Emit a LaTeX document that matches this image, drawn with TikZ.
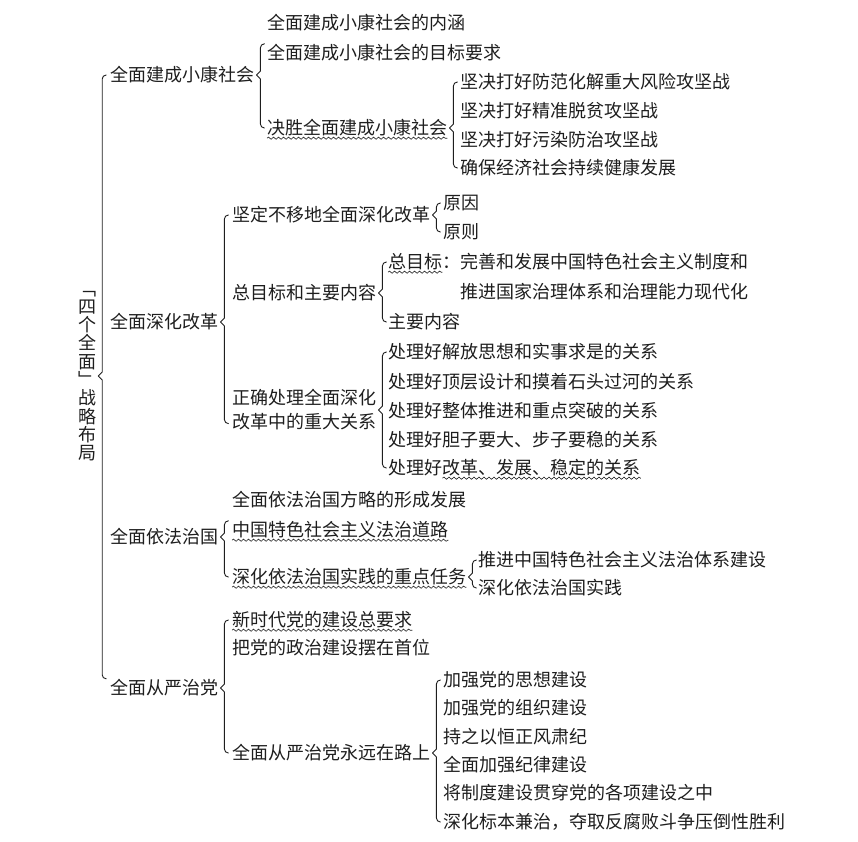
\documentclass[tikz,border=0pt]{standalone}
\usepackage{fontspec}
\setmainfont{Noto Sans CJK SC}
\usetikzlibrary{positioning,decorations.pathmorphing}

\definecolor{ink}{HTML}{1E1E1E}

\tikzset{
  item/.style={anchor=west, inner sep=0pt, text height=15.5pt, text depth=2.5pt},
  brace/.style={line width=0.9pt, line cap=round, line join=round},
  wavy/.style={line width=0.6pt, decorate, decoration={snake, amplitude=1.1pt, segment length=5pt}}
}

% brace after node #1, from the height of #2 down to #3
\newcommand{\fork}[3]{%
  \coordinate (ft) at ([xshift=6pt]#1.east);
  \coordinate (fa) at (ft |- #2);
  \coordinate (fb) at (ft |- #3);
  \draw[brace] ([xshift=4pt]fa) to[out=180,in=90] ([yshift=-4pt]fa) -- ([yshift=4pt]ft)
    -- ([xshift=-4pt]ft) -- ([yshift=-4pt]ft) -- ([yshift=4pt]fb) to[out=-90,in=180] ([xshift=4pt]fb);
}
\newcommand{\wave}[1]{\draw[wavy] ([yshift=-1pt]#1.south west) -- ([yshift=-1pt]#1.south east);}

\begin{document}
\begin{tikzpicture}[x=1pt, y=-1pt, ink, font=\fontsize{18}{22}\selectfont]
    \useasboundingbox (0,0) rectangle (858,841);

        \node[inner sep=0pt, align=center, font=\fontsize{18}{18.3}\selectfont] at (87,376) (title) {﹁\\四\\个\\全\\面\\﹂\\战\\略\\布\\局};

        \node[item] at (110,75) (xk) {全面建成小康社会};
        \node[item] at (110,322) (sh) {全面深化改革};
        \node[item] at (110,537) (yf) {全面依法治国};
        \node[item] at (110,688) (cy) {全面从严治党};

        \node[item] at (267,23) (xk1) {全面建成小康社会的内涵};
        \node[item] at (267,53) (xk2) {全面建成小康社会的目标要求};
        \node[item] at (267,128) (js) {决胜全面建成小康社会};
        \node[item] at (460,82) (js1) {坚决打好防范化解重大风险攻坚战};
        \node[item] at (460,111) (js2) {坚决打好精准脱贫攻坚战};
        \node[item] at (460,140) (js3) {坚决打好污染防治攻坚战};
        \node[item] at (460,168) (js4) {确保经济社会持续健康发展};

        \node[item] at (232,215) (jd) {坚定不移地全面深化改革};
        \node[item] at (443,203) (why) {原因};
        \node[item] at (443,232) (rule) {原则};
        \node[item] at (232,293) (zm) {总目标和主要内容};
        \node[item] at (388,262) (goal) {总目标};
        \node[item, right=0pt of goal] (goaltext) {：完善和发展中国特色社会主义制度和};
        \node[item] at (460,292) (goaltext2) {推进国家治理体系和治理能力现代化};
        \node[item] at (388,322) (main) {主要内容};
        \node[anchor=west, inner sep=0pt, align=left, font=\fontsize{18}{24}\selectfont] at (232,410) (zq) {正确处理全面深化\\改革中的重大关系};
        \coordinate (zqend) at ([yshift=7pt]zq.south west);
        \node[item] at (388,352) (r1) {处理好解放思想和实事求是的关系};
        \node[item] at (388,382) (r2) {处理好顶层设计和摸着石头过河的关系};
        \node[item] at (388,411) (r3) {处理好整体推进和重点突破的关系};
        \node[item] at (388,440) (r4) {处理好胆子要大、步子要稳的关系};
        \node[item] at (388,468) (r5) {处理好};
        \node[item, right=0pt of r5] (r5b) {改革、发展、稳定的关系};

        \node[item] at (232,500) (fz1) {全面依法治国方略的形成发展};
        \node[item] at (232,530) (fz2) {中国特色社会主义法治道路};
        \node[item] at (232,577) (fz3) {深化依法治国实践的重点任务};
        \node[item] at (478,560) (t1) {推进中国特色社会主义法治体系建设};
        \node[item] at (478,588) (t2) {深化依法治国实践};

        \node[item] at (232,620) (dj1) {新时代党的建设总要求};
        \node[item] at (232,648) (dj2) {把党的政治建设摆在首位};
        \node[item] at (232,753) (yy) {全面从严治党永远在路上};
        \node[item] at (443,680) (p1) {加强党的思想建设};
        \node[item] at (443,708) (p2) {加强党的组织建设};
        \node[item] at (443,737) (p3) {持之以恒正风肃纪};
        \node[item] at (443,765) (p4) {全面加强纪律建设};
        \node[item] at (443,793) (p5) {将制度建设贯穿党的各项建设之中};
        \node[item] at (443,822) (p6) {深化标本兼治，夺取反腐败斗争压倒性胜利};

        \fork{title}{xk.west}{cy.north west}
        \fork{xk}{xk2.north west}{js.west}
        \fork{js}{js1.west}{js4.west}
        \fork{sh}{jd.west}{zqend}
        \fork{jd}{why.west}{rule.west}
        \fork{zm}{goal.west}{main.west}
        \fork{zq}{r1.west}{r5.west}
        \fork{yf}{fz2.north west}{fz3.west}
        \fork{fz3}{t1.west}{t2.west}
        \fork{cy}{dj1.west}{yy.west}
        \fork{yy}{p1.west}{p6.west}

        \wave{js}
        \wave{goal}
        \wave{r5b}
        \wave{fz2}
        \wave{fz3}
        \wave{dj1}

    \end{tikzpicture}
\end{document}
